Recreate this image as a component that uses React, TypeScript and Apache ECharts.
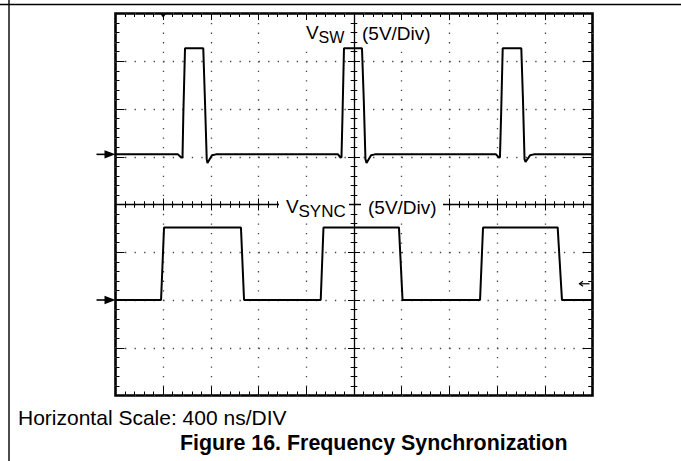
import React, { useEffect, useRef } from 'react';
import * as echarts from 'echarts';

// ---- axis definition (400 ns/div horizontally, 5 V/div vertically) ----
const TIME_MIN = -2000;
const TIME_MAX = 2000;
const TIME_DIV = 400;
const VOLT_MIN = -20;
const VOLT_MAX = 20;
const VOLT_DIV = 5;

// ---- channel 1 : V_SW (switch node) ----
const VSW_OFFSET = 5.25; // screen volts of channel-1 ground marker
const vswTime = [
  -2000,
  -1476, -1447, -1438, -1431, -1417, -1264, -1250, -1235, -1229, -1191, -1157,
  -134, -113, -105, -96, -84, 67, 82, 96, 105, 143, 176,
  1191, 1216, 1224, 1234, 1247, 1403, 1417, 1430, 1438, 1476, 1509,
  2000,
];
const vswVolt = [
  0,
  0, -0.35, -0.3, 4.3, 11.1, 11.1, 5.7, -0.5, -0.9, -0.1, 0,
  0, -0.35, -0.3, 4.3, 11.1, 11.1, 5.7, -0.5, -0.9, -0.1, 0,
  0, -0.35, -0.3, 4.3, 11.1, 11.1, 5.7, -0.5, -0.8, -0.1, 0,
  0,
];

// ---- channel 2 : V_SYNC ----
const VSYNC_OFFSET = -10;
const vsyncTime = [-2000, -1618, -1593, -948, -922, -279, -256, 377, 407, 1057, 1082, 1708, 1744, 2000];
const vsyncVolt = [0, 0, 7.6, 7.6, 0, 0, 7.6, 7.6, 0, 0, 7.6, 7.6, 0, 0];

// trigger settings
const TRIGGER_TIME = -1600;
const TRIGGER_LEVEL = 1.7; // V on channel 2

// texts
const labelVsw = ['V', 'SW'];
const labelVsync = ['V', 'SYNC'];
const scaleText = '(5V/Div)';
const footText = 'Horizontal Scale: 400 ns/DIV';
const captionText = 'Figure 16. Frequency Synchronization';

const FONT = '"Liberation Sans", Arial, Helvetica, sans-serif';

export default function App() {
  const ref = useRef<HTMLDivElement>(null);

  useEffect(() => {
    if (!ref.current) return;
    const chart = echarts.init(ref.current, undefined, { renderer: 'svg' });

    const dotted = { color: '#444', width: 1.3, type: [1.3, 8.24] as number[] };
    const tick = (len: number, inside: boolean) => ({
      show: true,
      inside,
      length: len,
      lineStyle: { color: '#000', width: 1 },
    });
    const minor = (len: number) => ({
      show: true,
      splitNumber: 5,
      length: len,
      lineStyle: { color: '#000', width: 1 },
    });
    const baseX = {
      type: 'value' as const,
      min: TIME_MIN,
      max: TIME_MAX,
      interval: TIME_DIV,
      axisLabel: { show: false },
      splitLine: { show: false },
    };
    const baseY = {
      type: 'value' as const,
      min: VOLT_MIN,
      max: VOLT_MAX,
      interval: VOLT_DIV,
      axisLabel: { show: false },
      splitLine: { show: false },
    };

    const option: any = {
      animation: false,
      backgroundColor: '#fff',
      grid: {
        left: 115.5,
        top: 13.5,
        width: 477,
        height: 382,
        show: true,
        borderColor: '#000',
        borderWidth: 2.6,
        backgroundColor: 'transparent',
      },
      xAxis: [
        {
          ...baseX,
          position: 'bottom',
          axisLine: { show: false, onZero: false },
          axisTick: tick(9, true),
          minorTick: minor(4),
          splitLine: { show: true, lineStyle: dotted },
        },
        {
          ...baseX,
          position: 'top',
          axisLine: { show: false, onZero: false },
          axisTick: tick(6.5, true),
          minorTick: minor(3.5),
        },
        {
          ...baseX,
          position: 'bottom',
          axisLine: { show: true, onZero: true, onZeroAxisIndex: 0, lineStyle: { color: '#000', width: 1.3 } },
          axisTick: tick(6, true),
          minorTick: minor(3.3),
        },
        {
          ...baseX,
          position: 'bottom',
          axisLine: { show: false, onZero: true, onZeroAxisIndex: 0 },
          axisTick: tick(6, false),
          minorTick: minor(3.3),
        },
      ],
      yAxis: [
        {
          ...baseY,
          position: 'left',
          axisLine: { show: false, onZero: false },
          axisTick: tick(9, true),
          minorTick: minor(4),
          splitLine: { show: true, lineStyle: dotted },
        },
        {
          ...baseY,
          position: 'right',
          axisLine: { show: false, onZero: false },
          axisTick: tick(10, true),
          minorTick: minor(4.3),
        },
        {
          ...baseY,
          position: 'left',
          axisLine: { show: true, onZero: true, onZeroAxisIndex: 0, lineStyle: { color: '#000', width: 1.3 } },
          axisTick: tick(6, true),
          minorTick: minor(3.3),
        },
        {
          ...baseY,
          position: 'left',
          axisLine: { show: false, onZero: true, onZeroAxisIndex: 0 },
          axisTick: tick(6, false),
          minorTick: minor(3.3),
        },
      ],
      series: [
        {
          name: 'VSW',
          type: 'line',
          xAxisIndex: 0,
          yAxisIndex: 0,
          data: vswTime.map((t, i) => [t, vswVolt[i] + VSW_OFFSET]),
          symbol: 'none',
          lineStyle: { color: '#000', width: 2 },
          z: 5,
        },
        {
          name: 'VSYNC',
          type: 'line',
          xAxisIndex: 0,
          yAxisIndex: 0,
          data: vsyncTime.map((t, i) => [t, vsyncVolt[i] + VSYNC_OFFSET]),
          symbol: 'none',
          lineStyle: { color: '#000', width: 2 },
          z: 5,
        },
      ],
    };
    chart.setOption(option);

    const px = (t: number, v: number) => chart.convertToPixel({ xAxisIndex: 0, yAxisIndex: 0 } as any, [t, v]) as number[];
    const [gl, gt] = px(TIME_MIN, VOLT_MAX);
    const [gr] = px(TIME_MAX, VOLT_MIN);
    const g1 = px(TIME_MIN, VSW_OFFSET)[1];
    const g2 = px(TIME_MIN, VSYNC_OFFSET)[1];
    const trigX = px(TRIGGER_TIME, 0)[0];
    const trigY = px(0, VSYNC_OFFSET + TRIGGER_LEVEL)[1];

    const groundArrow = (y: number) => [
      { type: 'line', z: 100, shape: { x1: gl - 19, y1: y, x2: gl - 10, y2: y }, style: { stroke: '#000', lineWidth: 1.6 } },
      { type: 'polygon', z: 100, shape: { points: [[gl - 11, y - 4.2], [gl - 11, y + 4.2], [gl, y]] }, style: { fill: '#000' } },
    ];
    const txt = (text: string, x: number, y: number, size: number, weight = 'normal') => ({
      type: 'text',
      z: 101,
      x,
      y,
      style: {
        text,
        fontFamily: FONT,
        fontSize: size,
        fontWeight: weight,
        fill: '#000',
        verticalAlign: 'middle',
        align: 'left',
      },
    });
    const white = (x: number, y: number, w: number, h: number) => ({
      type: 'rect', z: 99, shape: { x, y, width: w, height: h }, style: { fill: '#fff' },
    });

    chart.setOption({
      graphic: [
        { type: 'line', z: 100, shape: { x1: 0, y1: 4.5, x2: 681, y2: 4.5 }, style: { stroke: '#000', lineWidth: 1.6 } },
        { type: 'line', z: 100, shape: { x1: 9, y1: 0, x2: 9, y2: 461 }, style: { stroke: '#000', lineWidth: 1.4 } },
        ...groundArrow(g1),
        ...groundArrow(g2),
        { type: 'polygon', z: 100, shape: { points: [[trigX - 3, gt], [trigX + 3, gt], [trigX, gt + 4.5]] }, style: { fill: '#000' } },
        { type: 'line', z: 100, shape: { x1: gr - 13, y1: trigY, x2: gr - 3, y2: trigY }, style: { stroke: '#000', lineWidth: 1.2 } },
        { type: 'polyline', z: 100, shape: { points: [[gr - 9.5, trigY - 2.5], [gr - 13, trigY], [gr - 9.5, trigY + 2.5]] }, style: { stroke: '#000', lineWidth: 1.2, fill: null } },
        white(303, 22, 41, 24),
        white(360, 22, 75, 24),
        white(279, 196, 70, 24),
        white(361, 196, 82, 24),
        txt(labelVsw[0], 306, 32, 19),
        txt(labelVsw[1], 318.5, 37, 16),
        txt(scaleText, 362, 33.5, 19),
        txt(labelVsync[0], 286, 206.5, 19),
        txt(labelVsync[1], 298.5, 211.5, 17),
        txt(scaleText, 368, 207.5, 19),
        txt(footText, 18, 417, 21),
        txt(captionText, 180, 443, 21.4, 'bold'),
      ],
    });

    return () => chart.dispose();
  }, []);

  return (
    <div
      ref={ref}
      style={{ position: 'absolute', left: 0, top: 0, width: 681, height: 461 }}
    />
  );
}
